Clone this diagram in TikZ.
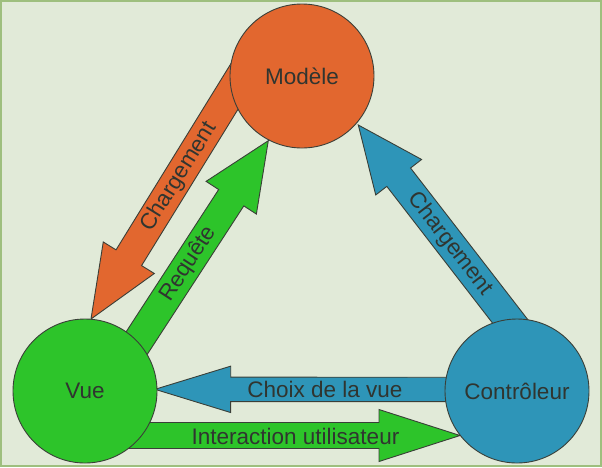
\documentclass[tikz,border=0pt]{standalone}
\usepackage{fontspec}
\setmainfont{Liberation Sans}
\usetikzlibrary{calc}
\definecolor{bgc}{HTML}{E1EAD8}
\definecolor{framec}{HTML}{9EBF7E}
\definecolor{orangec}{HTML}{E2672F}
\definecolor{greenc}{HTML}{2DC42A}
\definecolor{bluec}{HTML}{2E95B8}
\definecolor{linec}{HTML}{3A3F38}
\definecolor{textc}{HTML}{303530}
\newcommand\blockarrow[6]{%
  % #1 style, #2 tail coordinate, #3 tip coordinate, #4 shaft half width, #5 head half width, #6 head length
  \coordinate (hb) at ($(#3)!#6!(#2)$);
  \draw[#1] ($(#2)!#4!90:(#3)$) -- ($(hb)!#4!90:(#3)$) -- ($(hb)!#5!90:(#3)$) -- (#3)
    -- ($(hb)!#5!-90:(#3)$) -- ($(hb)!#4!-90:(#3)$) -- ($(#2)!#4!-90:(#3)$) -- cycle;
}
\begin{document}
\begin{tikzpicture}[x=1pt,y=-1pt,
  txt/.style={text=textc,font=\fontsize{22.5}{27}\selectfont,inner sep=0pt},
  ball/.style={circle,draw=linec,line width=0.9pt,minimum size=144pt,inner sep=0pt,txt},
  arr/.style={draw=linec,line width=0.9pt,line join=miter}]
\useasboundingbox (0,0) rectangle (602,467);
\fill[bgc] (0,0) rectangle (602,467);
\draw[framec,line width=2pt] (1,1) rectangle (601,466);
% arrow end points
\coordinate (oS) at (248.5,63.7);
\coordinate (oT) at (91,319);
\coordinate (gS) at (126.6,358.6);
\coordinate (gT) at (268.3,140.7);
\coordinate (bS) at (554,378);
\coordinate (bT) at (358.3,125);
\coordinate (cS) at (517,389.5);
\coordinate (cT) at (155,389.3);
\coordinate (iS) at (85,435.5);
\coordinate (iT) at (460,435.5);
% arrows
\blockarrow{arr,fill=orangec}{oS}{oT}{15pt}{30pt}{72pt}
\blockarrow{arr,fill=greenc}{gS}{gT}{15pt}{30pt}{68pt}
\blockarrow{arr,fill=bluec}{bS}{bT}{15pt}{29pt}{66pt}
\blockarrow{arr,fill=bluec}{cS}{cT}{12.2pt}{23.2pt}{75.7pt}
\blockarrow{arr,fill=greenc}{iS}{iT}{13pt}{26pt}{81pt}
% circles
\node[ball,fill=orangec] (modele) at (302,76) {Modèle};
\node[ball,fill=greenc] (vue) at (85,391) {Vue};
\node[ball,fill=bluec] (ctrl) at (517,391) {Contrôleur};
% labels
\node[txt,rotate=58.3] (l1) at (179,177) {Chargement};
\node[txt,rotate=57] (l2) at (188.5,264) {Requête};
\node[txt,rotate=-52.3] (l3) at (450,244) {Chargement};
\node[txt] (l4) at (325,389) {Choix de la vue};
\node[txt] (l5) at (295.5,436) {Interaction utilisateur};
\end{tikzpicture}
\end{document}
